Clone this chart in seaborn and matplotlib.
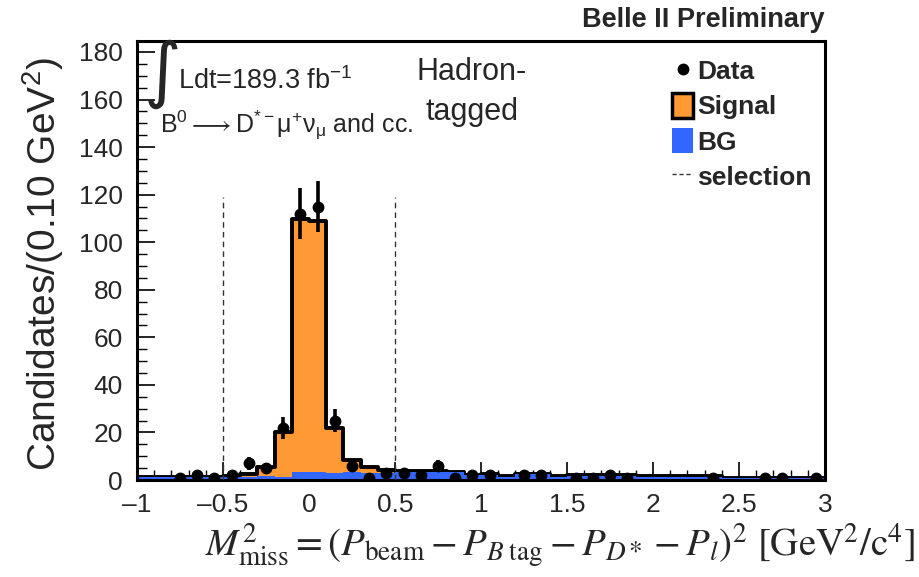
import numpy as np
import pandas as pd
import matplotlib
matplotlib.use("Agg")
import matplotlib.pyplot as plt
from matplotlib.lines import Line2D
from matplotlib.patches import Patch
from matplotlib.ticker import MultipleLocator, FuncFormatter
import seaborn as sns

# ---------------- data ----------------
bin_lo, bin_hi, bin_w = -1.0, 3.0, 0.1
data_counts = [0, 0, 1, 2, 1, 2, 7, 5, 22, 112,
               115, 25, 6, 1, 3, 3, 2, 6, 1, 2,
               2, 0, 2, 2, 0, 1, 1, 2, 1, 0,
               0, 0, 0, 1, 0, 0, 1, 1, 0, 1]
bg_counts = [1.2, 1.2, 1.2, 1.2, 1.2, 1.3, 1.4, 1.6, 1.3, 3.5,
             3.4, 3.0, 3.2, 2.8, 2.8, 3.4, 3.5, 3.4, 3.3, 2.1,
             2.2, 1.4, 2.4, 2.4, 1.4, 1.8, 1.8, 1.8, 1.8, 1.4,
             1.4, 1.4, 1.4, 1.4, 0.8, 0.8, 0.8, 0.8, 0.8, 0.8]
signal_counts = [0.0, 0.0, 0.0, 0.0, 0.1, 0.4, 1.1, 3.9, 18.7, 106.1,
                 105.6, 19.0, 5.4, 2.6, 1.3, 0.4, 0.3, 0.3, 0.2, 0.2,
                 0.2, 0.2, 0.2, 0.2, 0.2, 0.2, 0.2, 0.2, 0.1, 0.1,
                 0.1, 0.1, 0.1, 0.1, 0.1, 0.1, 0.1, 0.1, 0.1, 0.1]
selection_cuts = [-0.5, 0.5]
selection_top = 119
legend_labels = ["Data", "Signal", "BG", "selection"]

edges = np.linspace(bin_lo, bin_hi, len(data_counts) + 1)
centers = 0.5 * (edges[:-1] + edges[1:])
df = pd.DataFrame({
    "x": centers,
    "data": data_counts,
    "bg": bg_counts,
    "signal": signal_counts,
})
df["total"] = df["bg"] + df["signal"]

# ---------------- style ----------------
sns.set_theme(style="ticks")
plt.rcParams["font.family"] = ["Liberation Sans", "DejaVu Sans"]
plt.rcParams["mathtext.fontset"] = "custom"
plt.rcParams["mathtext.rm"] = "Liberation Sans"
plt.rcParams["mathtext.it"] = "Liberation Sans:italic"
plt.rcParams["mathtext.bf"] = "Liberation Sans:bold"

ORANGE = "#ff9933"
BLUE = "#3366ff"

W, H = 920, 577
fig = plt.figure(figsize=(W / 100, H / 100), dpi=100)
fig.patch.set_facecolor("white")
L, R, T, B = 137, 825, 41, 480
ax = fig.add_axes([L / W, 1 - B / H, (R - L) / W, (B - T) / H])
ax.set_facecolor("white")

# total (signal stacked on BG) with black outline
sns.histplot(data=df, x="x", weights="total", binwidth=bin_w,
             binrange=(bin_lo, bin_hi), element="step",
             fill=True, color=ORANGE, alpha=1, edgecolor="black",
             linewidth=2.8, ax=ax)
# BG on top
sns.histplot(data=df, x="x", weights="bg", binwidth=bin_w,
             binrange=(bin_lo, bin_hi), element="step",
             fill=True, color=BLUE, alpha=1, linewidth=0, ax=ax)

# selection lines
ax.vlines(selection_cuts, 0, selection_top, colors="#333333",
          linestyles=(0, (4, 3)), linewidth=1.0, zorder=3)

# data points
pts = df[df["data"] > 0]
ax.errorbar(pts["x"], pts["data"], yerr=np.sqrt(pts["data"]), fmt="o",
            color="black", ms=7.5, elinewidth=2.6, capsize=0, zorder=6)

ax.set_xlim(bin_lo, bin_hi)
ax.set_ylim(0, 184.6)

# ticks
ax.xaxis.set_major_locator(MultipleLocator(0.5))
ax.xaxis.set_minor_locator(MultipleLocator(0.1))
ax.yaxis.set_major_locator(MultipleLocator(20))
ax.yaxis.set_minor_locator(MultipleLocator(5))
fmt = FuncFormatter(lambda v, p: f"{v:g}".replace("-", "\u2013"))
ax.xaxis.set_major_formatter(fmt)
ax.tick_params(which="major", direction="in", length=13, width=1.2,
               labelsize=19, color="black", top=False, right=False)
ax.tick_params(which="minor", direction="in", length=7, width=1.0,
               color="black", top=False, right=False)
ax.tick_params(axis="x", which="major", pad=9)
ax.tick_params(axis="y", which="major", pad=10)
for s in ax.spines.values():
    s.set_visible(True)
    s.set_color("black")
    s.set_linewidth(2.2)

# axis labels
ax.set_ylabel("Candidates/(0.10 GeV$^{2}$)", fontsize=28, va="center")
ax.yaxis.set_label_coords((43 - L) / (R - L), (B - 264) / (B - T))
ax.set_xlabel(r"$M^{2}_{\mathrm{miss}} = (P_{\mathrm{beam}} - P_{B\;\mathrm{tag}}"
              r" - P_{D*} - P_{l})^{2}\ [\mathrm{GeV}^{2}/\mathrm{c}^{4}]$",
              fontsize=28, math_fontfamily="stix", ha="right")
ax.xaxis.set_label_coords((915 - L) / (R - L), -(522 - B) / (B - T))

# legend
handles = [
    Line2D([], [], marker="o", color="black", ls="none", ms=7.5),
    Patch(facecolor=ORANGE, edgecolor="black", linewidth=2.5),
    Patch(facecolor=BLUE, edgecolor="none"),
    Line2D([], [], color="#333333", ls=(0, (3, 2)), lw=1.0),
]
ax.legend(handles, legend_labels, loc="upper left",
          bbox_to_anchor=(672 / W, 1 - 58 / H), bbox_transform=fig.transFigure,
          frameon=False, prop={"weight": "bold", "size": 19},
          handlelength=0.8, handleheight=1.05, handletextpad=0.15,
          labelspacing=0.34, borderpad=0, borderaxespad=0)

# texts
fig.text(R / W, 1 - 27 / H, "Belle II Preliminary", ha="right", va="baseline",
         fontsize=19.5, fontweight="bold")
fig.text(144 / W, 1 - 94 / H, "\u222b", ha="left", va="baseline",
         fontsize=52, family=["DejaVu Sans", "DejaVu Serif"])
fig.text(178 / W, 1 - 89 / H, "Ldt=189.3 fb$^{-1}$", ha="left",
         va="baseline", fontsize=19.5)
fig.text(160 / W, 1 - 133 / H,
         r"B$^{0}\longrightarrow$D$^{*-}$$\mathrm{\mu}^{+}\mathrm{\nu}_{\mathrm{\mu}}$ and cc.",
         ha="left", va="baseline", fontsize=18)
fig.text(472 / W, 1 - 92 / H, "Hadron-\ntagged", ha="center", va="center",
         fontsize=22, linespacing=1.45)

fig.savefig("out.png", dpi=100, facecolor="white")
